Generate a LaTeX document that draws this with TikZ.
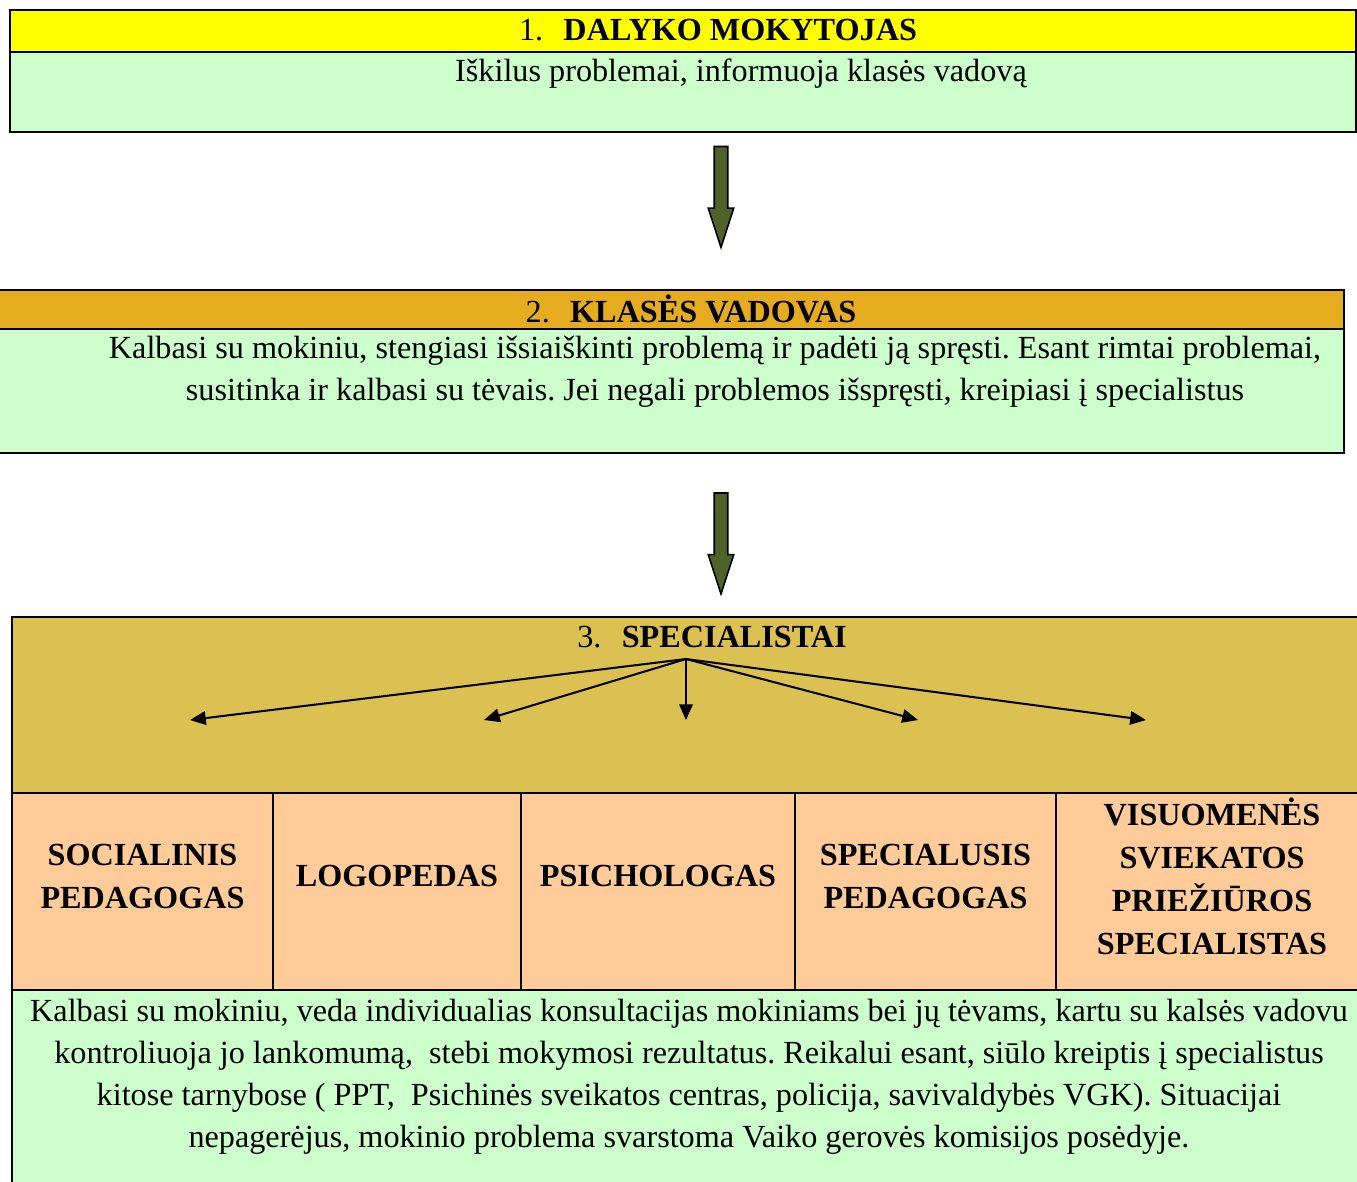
\documentclass[tikz,border=0pt]{standalone}
\usepackage{fontspec}
\setmainfont{Liberation Serif}
\usetikzlibrary{arrows.meta,shapes.arrows}
\frenchspacing

\definecolor{headyellow}{RGB}{255,255,0}
\definecolor{lightgreen}{RGB}{204,255,204}
\definecolor{headorange}{RGB}{229,172,32}
\definecolor{specgold}{RGB}{218,193,81}
\definecolor{cellpeach}{RGB}{255,204,153}
\definecolor{arrowgreen}{RGB}{79,98,40}

\tikzset{
  box/.style={draw,line width=1pt},
  headtext/.style={font=\fontsize{14.3}{16}\selectfont,inner sep=0pt},
  bodytext/.style={font=\fontsize{14.3}{18.65}\selectfont,align=center,inner sep=0pt},
  celltext/.style={font=\fontsize{14.3}{19.1}\selectfont\bfseries,align=center,inner sep=0pt},
  downarrow/.style={single arrow,draw=black,fill=arrowgreen,line width=0.7pt,
    shape border rotate=270,minimum height=44.8pt,inner sep=2.66pt,
    single arrow head extend=2.66pt,single arrow tip angle=36},
  fanarrow/.style={line width=0.9pt,-{Triangle[length=7pt,width=6pt]}}
}

\begin{document}
\begin{tikzpicture}[x=0.444pt,y=-0.444pt]
\clip (0,0) rectangle (1357,1181);
% 1 - dalyko mokytojas
\draw[box,fill=lightgreen] (10,52) rectangle (1356,132);
\draw[box,fill=headyellow] (10,10) rectangle (1356,52);
\node[headtext] (h1) at (718,30) {1.\hspace{9pt}\textbf{DALYKO MOKYTOJAS}};
\node[bodytext] (t1) at (741,74) {Iškilus problemai, informuoja klasės vadovą};
\node[downarrow] (a1) at (721,186.5) {};
% 2 - klases vadovas
\draw[box,fill=lightgreen] (-5,329) rectangle (1344,453);
\draw[box,fill=headorange] (-5,290) rectangle (1344,329);
\node[headtext] (h2) at (691,309) {2.\hspace{9pt}\textbf{KLASĖS VADOVAS}};
\node[bodytext] (t2) at (715,372) {Kalbasi su mokiniu, stengiasi išsiaiškinti problemą ir padėti ją spręsti. Esant rimtai problemai,\\
susitinka ir kalbasi su tėvais. Jei negali problemos išspręsti, kreipiasi į specialistus};
\node[downarrow] (a2) at (721,533) {};
% 3 - specialistai
\draw[box,fill=specgold] (12,617) rectangle (1368,793);
\node[headtext] (h3) at (712,637) {3.\hspace{9pt}\textbf{SPECIALISTAI}};
\coordinate (fan) at (686,659);
\foreach \n/\x in {1/190,2/484,3/686,4/918,5/1146}
  \coordinate (e\n) at (\x,720);
\foreach \n in {1,...,5}
  \draw[fanarrow] (fan) -- (e\n);
\foreach \n/\xa/\xb/\txt in {1/12/273/{SOCIALINIS\\PEDAGOGAS},
    2/273/521/{LOGOPEDAS},
    3/521/795/{PSICHOLOGAS},
    4/795/1056/{SPECIALUSIS\\PEDAGOGAS},
    5/1056/1368/{VISUOMENĖS\\SVIEKATOS\\PRIEŽIŪROS\\SPECIALISTAS}}{
  \draw[box,fill=cellpeach] (\xa,793) rectangle (\xb,990);
  \node[celltext] (c\n) at ({(\xa+\xb)/2},876) {\txt};
}
\draw[box,fill=lightgreen] (12,990) rectangle (1368,1200);
\node[bodytext] (t3) at (689,1077) {Kalbasi su mokiniu, veda individualias konsultacijas mokiniams bei jų tėvams, kartu su kalsės vadovu\\
kontroliuoja jo lankomumą,\ \ stebi mokymosi rezultatus. Reikalui esant, siūlo kreiptis į specialistus\\
kitose tarnybose ( PPT,\ \ Psichinės sveikatos centras, policija, savivaldybės VGK). Situacijai\\
nepagerėjus, mokinio problema svarstoma Vaiko gerovės komisijos posėdyje.};
\end{tikzpicture}
\end{document}
